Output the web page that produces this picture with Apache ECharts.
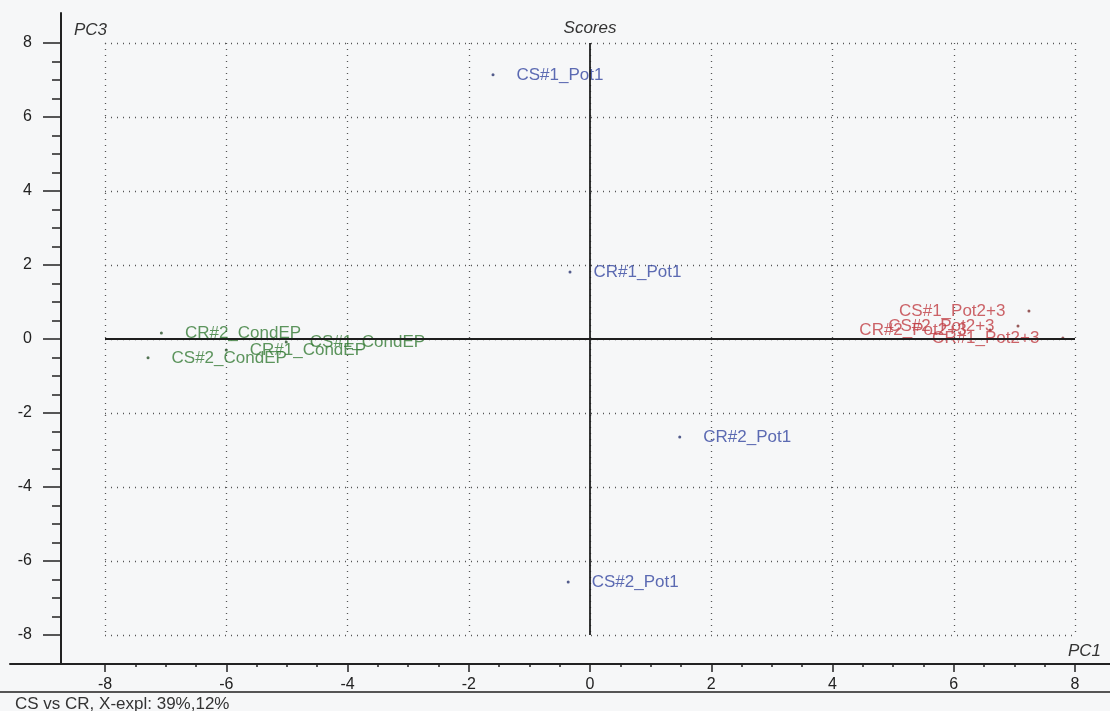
<!DOCTYPE html>
<html>
<head>
<meta charset="utf-8">
<script src="https://cdn.jsdelivr.net/npm/echarts@6/dist/echarts.min.js"></script>
<style>html,body{margin:0;padding:0;background:#f6f7f8;}#c{width:1110px;height:711px;}</style>
</head>
<body>
<div id="c"></div>
<script>
// ---- data ----
const blueNames = ['CS#1_Pot1', 'CR#1_Pot1', 'CR#2_Pot1', 'CS#2_Pot1'];
const blueX = [-1.60, -0.33, 1.48, -0.36];
const blueY = [7.14, 1.81, -2.65, -6.57];

const greenNames = ['CR#2_CondEP', 'CS#2_CondEP', 'CR#1_CondEP', 'CS#1_CondEP'];
const greenX = [-7.07, -7.29, -6.00, -5.01];
const greenY = [0.16, -0.51, -0.30, -0.08];

const redNames = ['CS#1_Pot2+3', 'CS#2_Pot2+3', 'CR#2_Pot2+3', 'CR#1_Pot2+3'];
const redX = [7.24, 7.06, 6.60, 7.80];
const redY = [0.76, 0.35, 0.24, 0.03];

const axisMin = -8, axisMax = 8, axisStep = 2;
const titleText = 'Scores';
const xName = 'PC1';
const yName = 'PC3';
const footerText = 'CS vs CR, X-expl: 39%,12%';

// ---- chart ----
const FONT = '"Liberation Sans", Arial, sans-serif';
function pts(xs, ys, names) { return xs.map((x, i) => [x, ys[i], names[i]]); }
function scatter(name, xs, ys, names, color, dotColor, pos) {
  return {
    name, type: 'scatter', xAxisIndex: 0, yAxisIndex: 0,
    data: pts(xs, ys, names),
    symbol: 'circle', symbolSize: 3,
    itemStyle: { color: dotColor },
    label: {
      show: true, position: pos, distance: 22,
      formatter: p => p.data[2],
      color: color, fontSize: 17, fontFamily: FONT
    },
    emphasis: { disabled: true },
    z: 3
  };
}

const chart = echarts.init(document.getElementById('c'), null, { renderer: 'canvas' });
const dotted = { type: [1, 5], color: '#555', width: 1.3 };
const tickStyle = { color: '#222', width: 1.5 };
const option = {
  backgroundColor: '#f6f7f8',
  animation: false,
  textStyle: { fontFamily: FONT },
  grid: [
    { left: 105, right: 35, top: 43, bottom: 76 },
    { left: 10, right: 0, top: 13, bottom: 47 },
    { left: 61, right: 0, top: 13, bottom: 47 }
  ],
  xAxis: [
    {
      gridIndex: 0, type: 'value', min: axisMin, max: axisMax, interval: axisStep,
      position: 'bottom', offset: 29,
      axisLine: { show: false, onZero: false },
      axisTick: { show: true, length: 8, lineStyle: tickStyle },
      minorTick: { show: true, splitNumber: 4, length: 3, lineStyle: tickStyle },
      axisLabel: { fontSize: 16, color: '#222', margin: 13, fontFamily: FONT },
      splitLine: { show: true, lineStyle: dotted }
    },
    {
      gridIndex: 1, type: 'value', min: 0, max: 1,
      axisLine: { show: true, onZero: false, lineStyle: { color: '#222', width: 2 } },
      axisTick: { show: false }, axisLabel: { show: false }, splitLine: { show: false }
    },
    { gridIndex: 2, type: 'value', min: 0, max: 1, show: false }
  ],
  yAxis: [
    {
      gridIndex: 0, type: 'value', min: axisMin, max: axisMax, interval: axisStep,
      position: 'left', offset: 44,
      axisLine: { show: false, onZero: false },
      axisTick: { show: true, length: 18, lineStyle: tickStyle },
      minorTick: { show: true, splitNumber: 4, length: 9, lineStyle: tickStyle },
      axisLabel: { fontSize: 16, color: '#222', margin: 29, fontFamily: FONT },
      splitLine: { show: true, lineStyle: dotted }
    },
    { gridIndex: 1, type: 'value', min: 0, max: 1, show: false },
    {
      gridIndex: 2, type: 'value', min: 0, max: 1,
      axisLine: { show: true, onZero: false, lineStyle: { color: '#222', width: 2 } },
      axisTick: { show: false }, axisLabel: { show: false }, splitLine: { show: false }
    }
  ],
  series: [
    scatter('blue', blueX, blueY, blueNames, '#3546a0', '#2a3470', 'right'),
    scatter('green', greenX, greenY, greenNames, '#347a34', '#2a522a', 'right'),
    scatter('red', redX, redY, redNames, '#c03c42', '#803232', 'left'),
    {
      type: 'scatter', xAxisIndex: 0, yAxisIndex: 0, data: [], z: 6, silent: true,
      markLine: {
        silent: true, symbol: 'none', animation: false,
        label: { show: false },
        lineStyle: { color: '#1e1e1e', width: 1.8, type: 'solid' },
        data: [{ xAxis: 0 }, { yAxis: 0 }]
      }
    }
  ],
  graphic: [
    { type: 'text', x: 590, y: 28, style: { text: titleText, fontSize: 17, fontStyle: 'italic', fontFamily: FONT, fill: '#333', align: 'center', verticalAlign: 'middle' } },
    { type: 'text', x: 74, y: 30, style: { text: yName, fontSize: 17, fontStyle: 'italic', fontFamily: FONT, fill: '#333', align: 'left', verticalAlign: 'middle' } },
    { type: 'text', x: 1068, y: 651, style: { text: xName, fontSize: 17, fontStyle: 'italic', fontFamily: FONT, fill: '#333', align: 'left', verticalAlign: 'middle' } },
    { type: 'text', x: 15, y: 704, style: { text: footerText, fontSize: 17, fontFamily: FONT, fill: '#333', align: 'left', verticalAlign: 'middle' } },
    { type: 'line', shape: { x1: 0, y1: 692, x2: 1110, y2: 692 }, style: { stroke: '#555', lineWidth: 2 } }
  ]
};
chart.setOption(option);
</script>
</body>
</html>
